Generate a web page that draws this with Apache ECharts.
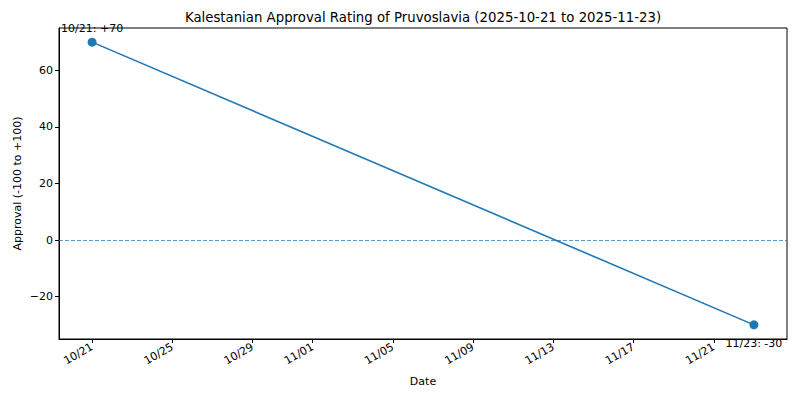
<!DOCTYPE html>
<html>
<head>
<meta charset="utf-8">
<script src="https://cdn.jsdelivr.net/npm/echarts@6/dist/echarts.min.js"></script>
<style>
  html, body { margin: 0; padding: 0; background: #fff; }
  #chart { width: 800px; height: 400px; }
</style>
</head>
<body>
<div id="chart"></div>
<script>
// data
var dates = ['2025-10-21', '2025-11-23'];
var approval = [70, -30];
var xTicks = ['2025-10-21', '2025-10-25', '2025-10-29', '2025-11-01', '2025-11-05',
              '2025-11-09', '2025-11-13', '2025-11-17', '2025-11-21'];
var yTicks = [-20, 0, 20, 40, 60];

var FONT = 'DejaVu Sans';

function toTime(s) {
    var p = s.split('-');
    return new Date(+p[0], +p[1] - 1, +p[2]).getTime();
}
function pad(n) { return (n < 10 ? '0' : '') + n; }
function mmdd(t) {
    var d = new Date(t);
    return pad(d.getMonth() + 1) + '/' + pad(d.getDate());
}

var times = dates.map(toTime);
// matplotlib style 5% margins
var xSpan = times[times.length - 1] - times[0];
var xMin = times[0] - xSpan * 0.05;
var xMax = times[times.length - 1] + xSpan * 0.05;
var yHi = Math.max.apply(null, approval), yLo = Math.min.apply(null, approval);
var yMin = yLo - (yHi - yLo) * 0.05;
var yMax = yHi + (yHi - yLo) * 0.05;

var points = times.map(function (t, i) {
    var v = approval[i];
    return {
        value: [t, v],
        label: {
            position: v >= 0 ? 'top' : 'bottom',
            distance: v >= 0 ? 4 : 9
        }
    };
});

var chart = echarts.init(document.getElementById('chart'), null, { renderer: 'svg' });

chart.setOption({
    animation: false,
    backgroundColor: '#fff',
    textStyle: { fontFamily: FONT },
    graphic: [{
        type: 'text',
        x: 423,
        y: 17,
        style: {
            text: 'Kalestanian Approval Rating of Pruvoslavia (2025-10-21 to 2025-11-23)',
            font: '13.3px "DejaVu Sans"',
            fill: '#000',
            align: 'center',
            verticalAlign: 'middle'
        }
    }],
    grid: {
        left: 59, right: 13, top: 28, bottom: 61,
        show: true, borderColor: '#000', borderWidth: 1
    },
    xAxis: {
        type: 'value',
        min: xMin,
        max: xMax,
        scale: true,
        name: 'Date',
        nameLocation: 'middle',
        nameGap: 37,
        nameMoveOverlap: false,
        nameTextStyle: { color: '#000', fontSize: 11, fontFamily: FONT },
        axisLine: { show: true, onZero: false, lineStyle: { color: '#000', width: 1 } },
        axisTick: {
            show: true, length: 4, inside: false,
            customValues: xTicks.map(toTime),
            lineStyle: { color: '#000', width: 1 }
        },
        axisLabel: {
            customValues: xTicks.map(toTime),
            rotate: 30,
            margin: 7,
            color: '#000',
            fontSize: 11,
            fontFamily: FONT,
            formatter: function (v) { return mmdd(v); }
        },
        splitLine: { show: false }
    },
    yAxis: {
        type: 'value',
        min: yMin,
        max: yMax,
        name: 'Approval (-100 to +100)',
        nameLocation: 'middle',
        nameGap: 36,
        nameMoveOverlap: false,
        nameTextStyle: { color: '#000', fontSize: 11, fontFamily: FONT },
        axisLine: { show: true, onZero: false, lineStyle: { color: '#000', width: 1 } },
        axisTick: {
            show: true, length: 4, inside: false,
            customValues: yTicks,
            lineStyle: { color: '#000', width: 1 }
        },
        axisLabel: {
            customValues: yTicks,
            margin: 6,
            color: '#000',
            fontSize: 11,
            fontFamily: FONT,
            formatter: function (v) { return String(v).replace('-', '\u2212'); }
        },
        splitLine: { show: false }
    },
    series: [{
        type: 'line',
        data: points,
        symbol: 'circle',
        symbolSize: 9,
        showAllSymbol: true,
        lineStyle: { color: '#1f77b4', width: 1.6 },
        itemStyle: { color: '#1f77b4' },
        label: {
            show: true,
            color: '#000',
            fontSize: 11,
            fontFamily: FONT,
            formatter: function (p) {
                var v = p.value[1];
                return mmdd(p.value[0]) + ': ' + (v > 0 ? '+' : '') + v;
            }
        },
        markLine: {
            silent: true,
            symbol: 'none',
            label: { show: false },
            lineStyle: { color: '#1f77b4', width: 1.1, type: [4, 2], opacity: 0.75 },
            data: [{ yAxis: 0 }]
        }
    }]
});
</script>
</body>
</html>
